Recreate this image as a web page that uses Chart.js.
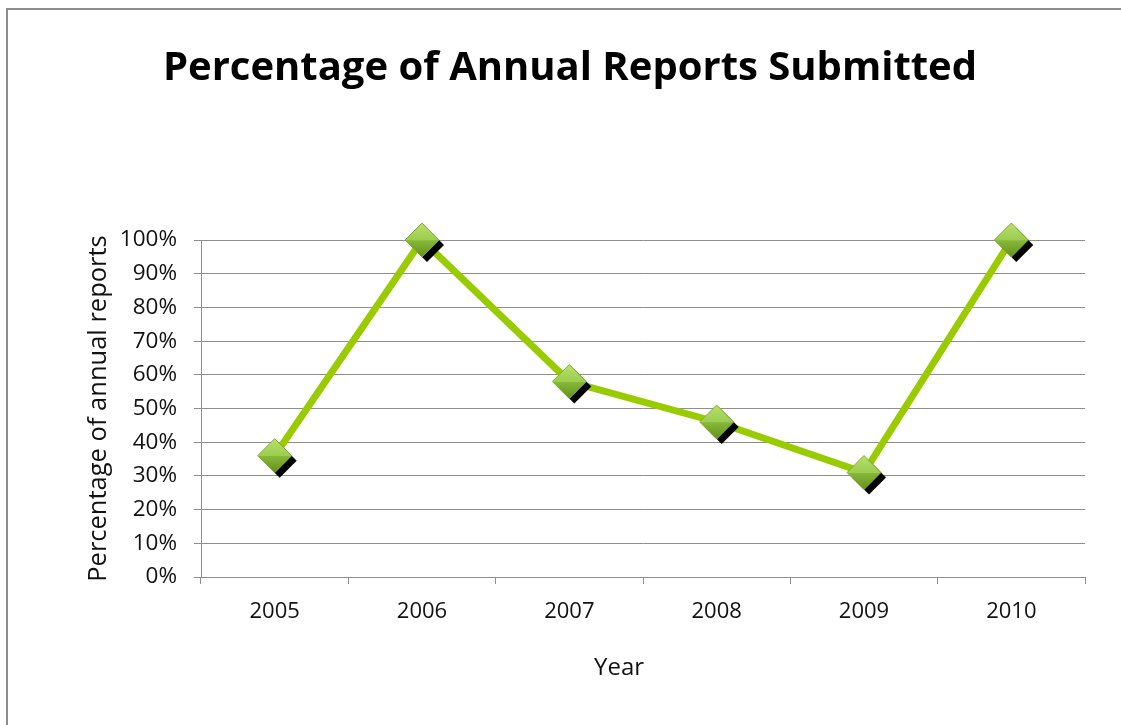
<!DOCTYPE html>
<html>
<head>
<meta charset="utf-8">
<script src="https://cdn.jsdelivr.net/npm/chart.js@4"></script>
<style>
  html, body { margin: 0; padding: 0; background: #fff; }
  #wrap { position: relative; width: 1121px; height: 725px; overflow: hidden; }
  #frame {
    position: absolute; left: 6px; top: 8px; width: 1200px; height: 800px;
    border-left: 2px solid #8c8c8c; border-top: 2px solid #8c8c8c;
  }
  #reportsChart { position: absolute; left: 0; top: 0; }
</style>
</head>
<body>
<div id="wrap">
  <div id="frame"></div>
  <canvas id="reportsChart" width="1121" height="725"></canvas>
</div>
<script>
const years = ["2005", "2006", "2007", "2008", "2009", "2010"];
const submitted = [36, 100, 58, 46, 31, 100];   // percent of reports in
const yTicks = [0, 10, 20, 30, 40, 50, 60, 70, 80, 90, 100];

const FONT = "'Open Sans', 'DejaVu Sans', sans-serif";
const LINE_GREEN = "#99cc00";
const GRID = "#8e8e8e";

// green diamonds with a hard black drop shadow, drawn over the line
const diamondPlugin = {
  id: "diamonds",
  afterDatasetsDraw(chart) {
    const { ctx } = chart;
    const meta = chart.getDatasetMeta(0);
    const r = 17;
    const diamond = (x, y) => {
      ctx.beginPath();
      ctx.moveTo(x, y - r);
      ctx.lineTo(x + r, y);
      ctx.lineTo(x, y + r);
      ctx.lineTo(x - r, y);
      ctx.closePath();
    };
    meta.data.forEach(pt => {
      const { x, y } = pt.getProps(["x", "y"], true);
      ctx.save();
      ctx.fillStyle = "#000";
      diamond(x + 5, y + 5);
      ctx.fill();

      const g = ctx.createLinearGradient(0, y - r, 0, y + r);
      g.addColorStop(0, "#b8e06a");
      g.addColorStop(0.5, "#9ccc50");
      g.addColorStop(0.52, "#86b838");
      g.addColorStop(1, "#648f1e");
      ctx.fillStyle = g;
      diamond(x, y);
      ctx.fill();
      ctx.strokeStyle = "#7fae2e";
      ctx.lineWidth = 1;
      ctx.stroke();
      ctx.restore();
    });
  }
};

// axis caption under the years, sitting a little left of the axis centre
const yearCaption = {
  id: "yearCaption",
  afterDraw(chart) {
    const { ctx } = chart;
    const xs = chart.scales.x;
    ctx.save();
    ctx.font = "24px " + FONT;
    ctx.fillStyle = "#111";
    ctx.textAlign = "center";
    ctx.textBaseline = "middle";
    ctx.fillText("Year", (xs.left + xs.right) / 2 - 24, xs.bottom - 17);
    ctx.restore();
  }
};

const ctx = document.getElementById("reportsChart").getContext("2d");

new Chart(ctx, {
  type: "line",
  data: {
    labels: years,
    datasets: [{
      label: "Submitted",
      data: submitted,
      borderColor: LINE_GREEN,
      borderWidth: 7,
      tension: 0,
      pointRadius: 0,
      fill: false
    }]
  },
  options: {
    responsive: false,
    animation: false,
    layout: { padding: { left: 55, right: 36, top: 0, bottom: 40 } },
    plugins: {
      legend: { display: false },
      tooltip: { enabled: false },
      title: {
        display: true,
        text: "Percentage of Annual Reports Submitted",
        color: "#000",
        font: { family: FONT, size: 40, weight: "bold" },
        padding: { top: 45, bottom: 147 }
      }
    },
    scales: {
      x: {
        offset: true,
        grid: {
          offset: true,
          drawOnChartArea: false,
          color: GRID,
          tickLength: 7
        },
        border: { color: GRID, width: 1 },
        ticks: {
          color: "#111",
          padding: 15,
          font: { family: FONT, size: 22 }
        },
        afterFit(scale) { scale.height = 108; }
      },
      y: {
        min: 0,
        max: 100,
        afterBuildTicks(scale) {
          scale.ticks = yTicks.map(v => ({ value: v }));
        },
        grid: { color: GRID, tickLength: 7 },
        border: { color: GRID, width: 1 },
        ticks: {
          color: "#111",
          padding: 17,
          font: { family: FONT, size: 22.5 },
          callback: v => v + "%"
        },
        title: {
          display: true,
          text: "Percentage of annual reports",
          color: "#111",
          font: { family: FONT, size: 25.5 },
          padding: { top: 28, bottom: 0 }
        },
        afterFit(scale) { scale.width = 146; }
      }
    }
  },
  plugins: [diamondPlugin, yearCaption]
});
</script>
</body>
</html>
